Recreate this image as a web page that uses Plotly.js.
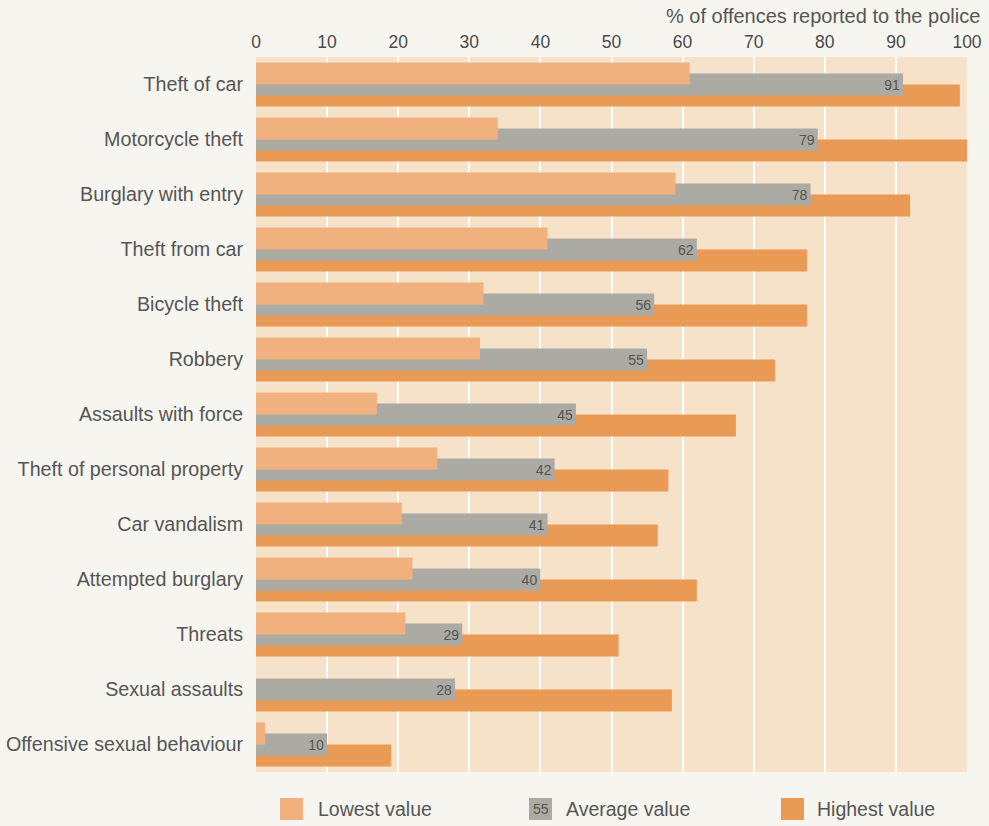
<!DOCTYPE html>
<html>
<head>
<meta charset="utf-8">
<script src="https://cdn.plot.ly/plotly-3.0.1.min.js"></script>
<style>
html,body{margin:0;padding:0;background:#f7f5f0;}
#chart{width:989px;height:826px;}
</style>
</head>
<body>
<div id="chart"></div>
<script>
const categories = [
  "Theft of car",
  "Motorcycle theft",
  "Burglary with entry",
  "Theft from car",
  "Bicycle theft",
  "Robbery",
  "Assaults with force",
  "Theft of personal property",
  "Car vandalism",
  "Attempted burglary",
  "Threats",
  "Sexual assaults",
  "Offensive sexual behaviour"
];
const lowestValues  = [61, 34, 59, 41, 32, 31.5, 17, 25.5, 20.5, 22, 21, null, 1.3];
const averageValues = [91, 79, 78, 62, 56, 55, 45, 42, 41, 40, 29, 28, 10];
const highestValues = [99, 100, 92, 77.5, 77.5, 73, 67.5, 58, 56.5, 62, 51, 58.5, 19];
const xTicks = [0, 10, 20, 30, 40, 50, 60, 70, 80, 90, 100];
const axisTitle = "% of offences reported to the police";
const legendLabels = ["Lowest value", "Average value", "Highest value"];
const legendSample = "55";

const colLow = "#f0b17f";
const colAvg = "#abaaa3";
const colHigh = "#e99a55";
const textCol = "#555555";
const FONT = "Liberation Sans, Arial, sans-serif";

const traces = [
  {
    type: "bar", orientation: "h", name: legendLabels[2],
    y: categories, x: highestValues,
    width: 0.4, offset: 0,
    marker: {color: colHigh, line: {width: 0}},
    hoverinfo: "x+y"
  },
  {
    type: "bar", orientation: "h", name: legendLabels[1],
    y: categories, x: averageValues,
    width: 0.4, offset: -0.2,
    marker: {color: colAvg, line: {width: 0}},
    text: averageValues.map(String),
    textposition: "inside", insidetextanchor: "end",
    constraintext: "none", textangle: 0,
    textfont: {family: FONT, size: 14, color: textCol},
    hoverinfo: "x+y"
  },
  {
    type: "bar", orientation: "h", name: legendLabels[0],
    y: categories, x: lowestValues,
    width: 0.4, offset: -0.4,
    marker: {color: colLow, line: {width: 0}},
    hoverinfo: "x+y"
  }
];

// legend drawn as shapes + annotations (paper coords)
const L = 256, R = 967, T = 57, B = 772;
const W = R - L, H = B - T;
const px = v => (v - L) / W;
const py = v => (B - v) / H;

const legendItems = [
  {x0: 280, color: colLow, label: legendLabels[0], tx: 316},
  {x0: 529, color: colAvg, label: legendLabels[1], tx: 564},
  {x0: 781, color: colHigh, label: legendLabels[2], tx: 815}
];
const shapes = legendItems.map(it => ({
  type: "rect", xref: "paper", yref: "paper",
  x0: px(it.x0), x1: px(it.x0 + 23), y0: py(798), y1: py(820),
  fillcolor: it.color, line: {width: 0}, layer: "above"
}));
const annotations = legendItems.map(it => ({
  xref: "paper", yref: "paper", x: px(it.tx), y: py(809),
  xanchor: "left", yanchor: "middle", showarrow: false,
  text: it.label, font: {family: FONT, size: 19.5, color: textCol}
}));
annotations.push({
  xref: "paper", yref: "paper", x: px(529 + 11.5), y: py(809),
  xanchor: "center", yanchor: "middle", showarrow: false,
  text: legendSample, font: {family: FONT, size: 14, color: textCol}
});
annotations.push({
  xref: "paper", yref: "paper", x: px(982), y: py(16),
  xanchor: "right", yanchor: "middle", showarrow: false,
  text: axisTitle, font: {family: FONT, size: 20, color: textCol}
});

const layout = {
  width: 989, height: 826,
  margin: {l: L, r: 989 - R, t: T, b: 826 - B, pad: 0},
  paper_bgcolor: "#f7f5f0",
  plot_bgcolor: "#f5e2c9",
  barmode: "overlay",
  showlegend: false,
  font: {family: FONT, color: textCol},
  xaxis: {
    side: "top", range: [0, 100], tickvals: xTicks, ticktext: xTicks.map(String),
    showgrid: true, gridcolor: "#ffffff", gridwidth: 2,
    zeroline: false, showline: false,
    ticks: "outside", ticklen: 1, tickcolor: "rgba(0,0,0,0)",
    tickfont: {family: FONT, size: 17.5, color: "#4a4a4a"},
    fixedrange: true
  },
  yaxis: {
    type: "category", range: [12.5, -0.5],
    showgrid: false, zeroline: false, showline: false,
    ticks: "outside", ticklen: 8, tickcolor: "rgba(0,0,0,0)",
    tickfont: {family: FONT, size: 19.7, color: textCol},
    fixedrange: true
  },
  shapes: shapes,
  annotations: annotations
};

Plotly.newPlot("chart", traces, layout, {displayModeBar: false, staticPlot: true});
</script>
</body>
</html>
